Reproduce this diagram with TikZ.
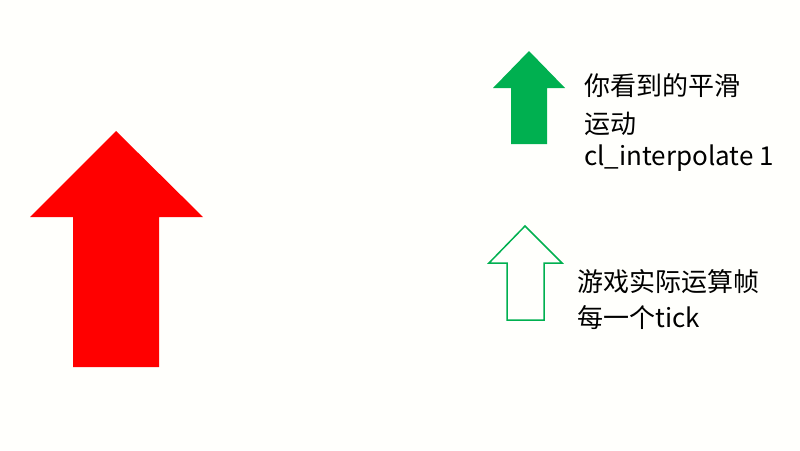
\documentclass[tikz,border=0pt]{standalone}
\usepackage{fontspec}
\setmainfont{Noto Sans CJK SC}
\begin{document}
\begin{tikzpicture}[x=1pt,y=-1pt,
 lbl/.style={anchor=west,inner sep=0pt,font=\fontsize{26}{36}\selectfont,align=left}]
\fill[white!99!yellow] (0,0) rectangle (800,450);
\useasboundingbox (0,0) rectangle (800,450);
\fill[red] (116,131) -- (203,217) -- (159,217) -- (159,367) -- (73,367) -- (73,217) -- (30,217) -- cycle;
\fill[green!60!black!90!cyan, fill={rgb,255:red,0;green,176;blue,80}] (529,51) -- (565,88) -- (547,88) -- (547,144) -- (511,144) -- (511,88) -- (493,88) -- cycle;
\draw[draw={rgb,255:red,0;green,176;blue,80},line width=1.5pt] (525,226) -- (562,263) -- (544,263) -- (544,320) -- (507,320) -- (507,263) -- (489,263) -- cycle;
\node[lbl] (t1) at (584,86) {你看到的平滑};
\node[lbl] (t2) at (584,124) {运动};
\node[lbl] (t3) at (584,158) {cl\_interpolate 1};
\node[lbl] (t4) at (577,282) {游戏实际运算帧};
\node[lbl] (t5) at (577,318) {每一个tick};
\end{tikzpicture}
\end{document}
